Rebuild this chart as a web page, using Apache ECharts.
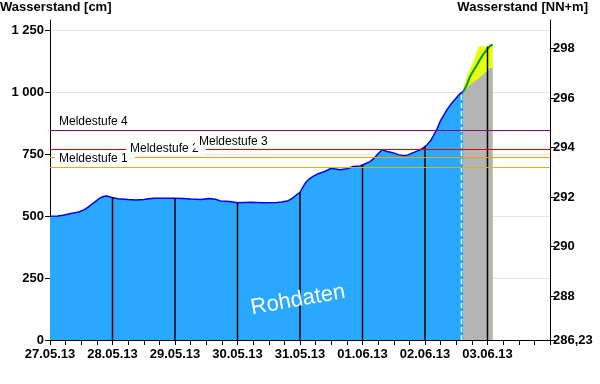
<!DOCTYPE html>
<html><head><meta charset="utf-8">
<script src="https://cdn.jsdelivr.net/npm/echarts@6/dist/echarts.min.js"></script>
<style>html,body{margin:0;padding:0;background:#fff}#c{width:600px;height:384px}</style>
</head><body><div id="c"></div>
<script>
// ---- data (hours since 27.05.13 00:00, water level in cm) ----
const obsHours = [0,3,5,8,11,13,14.5,15.7,17,18.5,19.5,20.5,21.5,22.5,23.5,26,30,33,36,38,40,44,48,51,54,58,61,63.5,65.5,69,72,77,82,87,89,91.5,93,94.5,96,97.2,98.2,99.2,101,103,105.5,108,109,111.4,114,116.4,119,120.2,122.9,124.5,125.6,127.5,129.4,131.7,134,136,137.5,139,140.2,142,143.2,144.8,146,147.2,148.6,149.8,151,152.4,153.6,154.8,156,157.4,158.75];
const obsLevels = [500,501,504,511,517,526,536,546,556,568,575,580,582,580,577,571,568,566,568,571,573,573,573,572,570,568,572,569,562,560,555,557,555,556,558,563,572,585,597,620,636,648,661,672,681,694,692,688,692,701,703,708,721,735,748,769,762,757,748,745,748,755,760,768,775,789,803,825,852,883,905,930,948,964,978,995,1005];
const lowHours = [158.75,161.3,164,166.3,169,170];
const lowLevels = [1005,1032,1052,1072,1099,1099];
const highHours = [158.75,159.4,160.5,162,163.2,164.7,166.3,167.8,170];
const highLevels = [1005,1040,1079,1112,1146,1187,1187,1185,1195];
const predHours = [158.75,160.1,161.3,162.4,164,165.1,166.3,167.8,169,170];
const predLevels = [1005,1032,1065,1085,1112,1133,1153,1173,1189,1193];
const dayMarkHours = [24,48,72,96,120,144,168];
const nowHour = 158;
const thresholdValues = [700,740,770,850];
const thresholdNames = ['Meldestufe 1','Meldestufe 2','Meldestufe 3','Meldestufe 4'];
const thresholdColors = ['#dcb400','#ffa000','#e00000','#800080'];
const leftTicks = [0,250,500,750,1000,1250];
const rightTicks = [286.23,288,290,292,294,296,298];
const datum = 286.23; // NN+m at 0 cm

const START = Date.UTC(2013,4,27);
const HOUR = 3600000, DAY = 86400000;
const END = START + 8*DAY;
const toMs = h => START + h*HOUR;
const pairs = (hs, vs) => hs.map((h,i)=>[toMs(h), vs[i]]);
function interp(hs, vs, h){
  for (let i=1;i<hs.length;i++){ if (h<=hs[i]){ const f=(h-hs[i-1])/(hs[i]-hs[i-1]); return vs[i-1]+f*(vs[i]-vs[i-1]); } }
  return vs[vs.length-1];
}
const levelAt = h => h <= obsHours[obsHours.length-1] ? interp(obsHours, obsLevels, h) : interp(highHours, highLevels, h);

const LEFT_MAX = 1293;
const FONT = 'Liberation Sans, Arial, sans-serif';
const pad2 = n => (n<10?'0':'')+n;

const chart = echarts.init(document.getElementById('c'), null, {renderer:'canvas'});
function vline(color, width, dash){
  return function(params, api){
    const t = api.value(0), v = api.value(1);
    const p0 = api.coord([t,0]), p1 = api.coord([t,v]);
    return {type:'line', shape:{x1:p0[0],y1:p0[1],x2:p1[0],y2:p1[1]},
      style:{stroke:color, lineWidth:width, lineDash:dash||null}};
  };
}
function hline(params, api){
  const v = api.value(1);
  const p0 = api.coord([START, v]), p1 = api.coord([END, v]);
  const y = Math.round(p0[1]) + 0.5;
  return {type:'line', shape:{x1:p0[0],y1:y,x2:p1[0],y2:y},
    style:{stroke:thresholdColors[params.dataIndex], lineWidth:1}};
}
chart.setOption({
  animation:false,
  grid:{left:50,right:50,top:20,bottom:44,containLabel:false},
  xAxis:{type:'value',min:START,max:END,interval:DAY,
    axisLine:{lineStyle:{color:'#000',width:1}},
    axisTick:{show:true,length:5,lineStyle:{color:'#000'}},
    minorTick:{show:true,splitNumber:4,length:5,lineStyle:{color:'#000'}},
    splitLine:{show:false},
    axisLabel:{showMaxLabel:false,margin:8,color:'#000',fontWeight:'bold',fontSize:13,fontFamily:FONT,
      formatter:v=>{const d=new Date(v);return pad2(d.getUTCDate())+'.'+pad2(d.getUTCMonth()+1)+'.'+String(d.getUTCFullYear()).slice(2);}}
  },
  yAxis:[
    {type:'value',min:0,max:LEFT_MAX,position:'left',
      axisLine:{show:true,lineStyle:{color:'#000'}},
      axisTick:{show:true,length:5,customValues:leftTicks,lineStyle:{color:'#000'}},
      axisLabel:{customValues:leftTicks,margin:6,color:'#000',fontWeight:'bold',fontSize:13,fontFamily:FONT,
        formatter:v=> v>=1000 ? Math.floor(v/1000)+' '+String(v%1000).padStart(3,'0') : String(v)},
      splitLine:{show:true,lineStyle:{color:'#e6e6e6',width:1}}
    },
    {type:'value',min:datum,max:datum+LEFT_MAX/100,position:'right',
      axisLine:{show:true,lineStyle:{color:'#000'}},
      axisTick:{show:true,length:5,customValues:rightTicks,lineStyle:{color:'#000'}},
      axisLabel:{customValues:rightTicks,margin:3,color:'#000',fontWeight:'bold',fontSize:13,fontFamily:FONT,
        formatter:v=> Number.isInteger(v) ? String(v) : v.toFixed(2).replace('.',',')},
      splitLine:{show:false}
    }
  ],
  series:[
    {type:'line',name:'band',data:pairs(highHours,highLevels),symbol:'none',
      lineStyle:{width:0},areaStyle:{color:'#e6ff10',opacity:1},z:2},
    {type:'line',name:'low',data:pairs(lowHours,lowLevels),symbol:'none',
      lineStyle:{width:0},areaStyle:{color:'#b4b4b4',opacity:1},z:3},
    {type:'line',name:'obs',data:pairs(obsHours,obsLevels),symbol:'none',
      lineStyle:{color:'#0000ee',width:1.5},areaStyle:{color:'#2aa8ff',opacity:1},z:4},
    {type:'line',name:'pred',data:pairs(predHours,predLevels),symbol:'none',
      lineStyle:{color:'#009900',width:2},z:5},
    {type:'custom',name:'days',renderItem:vline('#000',1.5),
      data:dayMarkHours.map(h=>[toMs(h), levelAt(h)]),z:6},
    {type:'custom',name:'now',renderItem:vline('#ffffff',1.5,[5,3]),
      data:[[toMs(nowHour), levelAt(nowHour)]],z:6},
    {type:'custom',name:'thresholds',renderItem:hline,
      data:thresholdValues.map(v=>[START, v]),z:7}
  ]
});

const labelX = [55,126,195,55];
const gfx = [
  {type:'text',left:0,top:1,style:{text:'Wasserstand [cm]',font:'bold 13px '+FONT,fill:'#000'}},
  {type:'text',right:12,top:1,style:{text:'Wasserstand [NN+m]',font:'bold 13px '+FONT,fill:'#000'}},
  {type:'text',x:298,y:300,rotation:10*Math.PI/180,z:100,
    style:{text:'Rohdaten',font:'22px '+FONT,fill:'#ffffff',align:'center',verticalAlign:'middle',
      shadowColor:'#555',shadowOffsetX:2,shadowOffsetY:2,shadowBlur:0}}
];
thresholdValues.forEach((v,i)=>{
  const y = chart.convertToPixel({yAxisIndex:0}, v);
  gfx.push({type:'text',x:labelX[i],y:y-8,z:50,
    style:{text:thresholdNames[i],font:'12px '+FONT,fill:'#000',verticalAlign:'middle',
      backgroundColor:'#fff',padding:[1,7,1,4]}});
});
chart.setOption({graphic:gfx});
</script></body></html>
